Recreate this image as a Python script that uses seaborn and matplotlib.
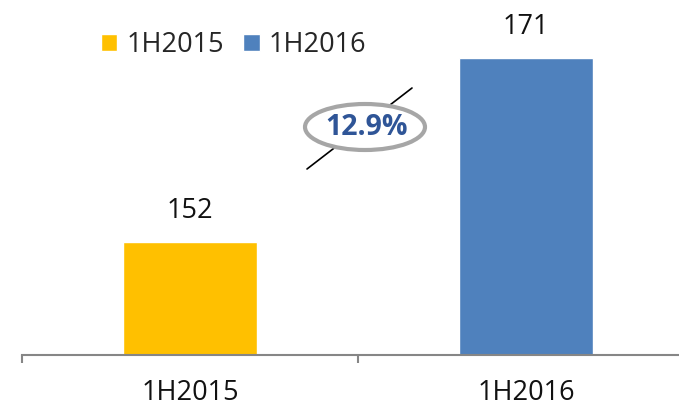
import matplotlib
matplotlib.use("Agg")
import matplotlib.pyplot as plt
import seaborn as sns
from matplotlib.patches import Ellipse
from matplotlib.lines import Line2D

periods = ["1H2015", "1H2016"]
values = [152, 171]
colors = ["#FFC000", "#4F81BD"]
growth_label = "12.9%"

sns.set_style("white")
plt.rcParams['font.family'] = ['Open Sans', 'DejaVu Sans']

fig = plt.figure(figsize=(6.79, 4.07), dpi=100)
ax = fig.add_axes([22 / 679, 52 / 407, 672 / 679, 355 / 407])

sns.barplot(x=periods, y=values, hue=periods, palette=colors, width=0.4,
            saturation=1, legend=True, ax=ax)

ax.set_ylim(140.3, 177.0)
ax.set_xlim(-0.5, 1.5)

for c in ax.containers:
    ax.bar_label(c, fmt="%d", padding=12, fontsize=19.5, color="#111111")

# axis styling
for s in ["left", "top", "right"]:
    ax.spines[s].set_visible(False)
ax.spines["bottom"].set_color("#868686")
ax.spines["bottom"].set_linewidth(1.5)
ax.set_yticks([])
ax.set_xticks([0, 1])
ax.set_xticklabels(periods, fontsize=19.5, color="#111111")
ax.set_xticks([-0.5, 0.5, 1.5], minor=True)
ax.tick_params(axis="x", which="major", length=0, pad=17)
ax.tick_params(axis="x", which="minor", length=6, width=1.5, color="#868686",
               direction="out", bottom=True)

handles, labels = ax.get_legend_handles_labels()
ax.legend(handles, labels, loc="center left",
          bbox_to_anchor=(101 / 679, 1 - 45 / 407), bbox_transform=fig.transFigure,
          ncol=2, frameon=False, fontsize=19.5, handlelength=0.6, handleheight=0.6,
          handletextpad=0.35, columnspacing=0.7, borderpad=0, borderaxespad=0)

# growth annotation
fig.add_artist(Line2D([307 / 679, 412 / 679], [1 - 169 / 407, 1 - 88 / 407],
                      color="black", lw=1.2, zorder=5))
fig.add_artist(Ellipse((365 / 679, 1 - 127 / 407), 120 / 679, 46 / 407,
                       transform=fig.transFigure, facecolor="white",
                       edgecolor="#A6A6A6", lw=3, zorder=6))
fig.text(367 / 679, 1 - 127 / 407, growth_label, ha="center", va="center",
         fontsize=20.5, fontweight="bold", color="#2F5597", zorder=7)

fig.savefig("out.png", dpi=100)
